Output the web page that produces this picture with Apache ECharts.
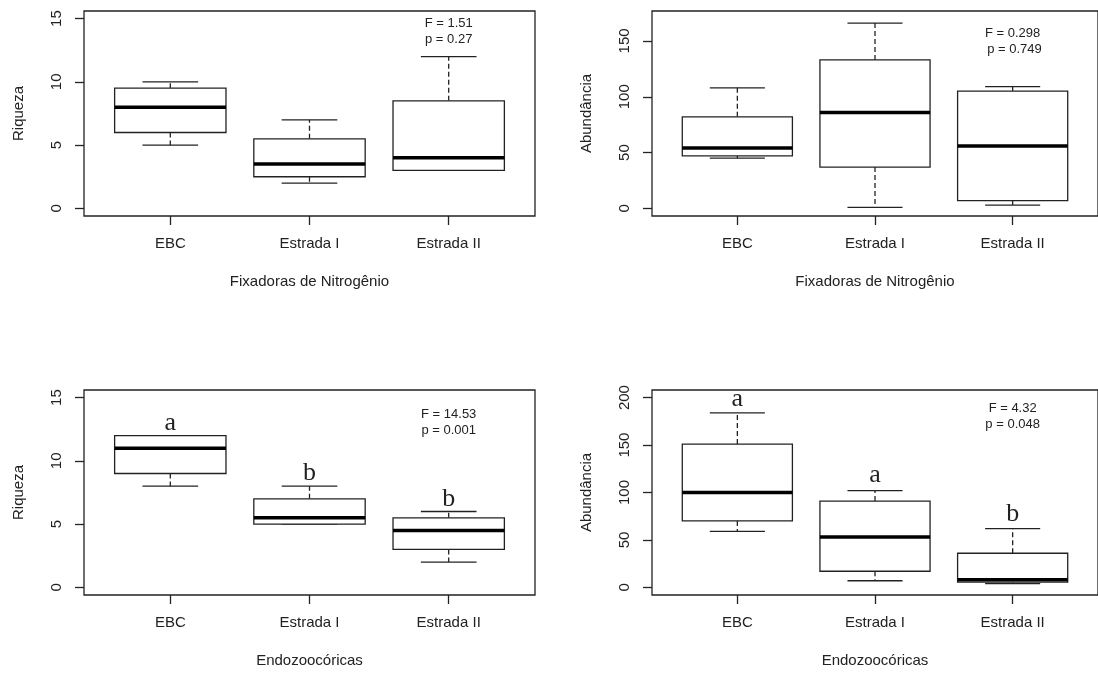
<!DOCTYPE html>
<html>
<head>
<meta charset="utf-8">
<title>Riqueza e Abundância</title>
<script src="https://cdn.jsdelivr.net/npm/echarts@6/dist/echarts.min.js"></script>
<style>
  html, body { margin: 0; padding: 0; background: #fff; }
  #chart { width: 1098px; height: 673px; }
</style>
</head>
<body>
<div id="chart"></div>
<script>
const categories = ['EBC', 'Estrada I', 'Estrada II']

// five-number summaries per group: [min, Q1, median, Q3, max]
const fixRiqueza = [[5, 6, 8, 9.5, 10], [2, 2.5, 3.5, 5.5, 7], [3, 3, 4, 8.5, 12]]
const fixAbundancia = [[45, 47, 54, 82, 108], [1, 37, 86, 133, 166], [3, 7, 56, 105, 109]]
const endoRiqueza = [[8, 9, 11, 12, 12], [5, 5, 5.5, 7, 8], [2, 3, 4.5, 5.5, 6]]
const endoAbundancia = [[59, 70, 100, 151, 184], [7, 17, 53, 91, 102], [4, 5.5, 8, 36, 62]]

// tick labels on the y axes
const riquezaTicks = [0, 5, 10, 15]
const fixAbundTicks = [0, 50, 100, 150]
const endoAbundTicks = [0, 50, 100, 150, 200]

// ANOVA results: [x, y, text]
const fixRiquezaStat = [3, 14, 'F = 1.51\np = 0.27']
const fixAbundStat = [3, 150, 'F = 0.298\n p = 0.749']
const endoRiquezaStat = [3, 13, 'F = 14.53\np = 0.001']
const endoAbundStat = [3, 180, 'F = 4.32\np = 0.048']

// Tukey letters: [x, y, letter]
const endoRiquezaLetters = [[1, 13, 'a'], [2, 9, 'b'], [3, 7, 'b']]
const endoAbundLetters = [[1, 198, 'a'], [2, 118, 'a'], [3, 77, 'b']]

const INK = '#222'
const SANS = '"Liberation Sans", Arial, sans-serif'
const SERIF = '"Liberation Serif", "Times New Roman", serif'

const panels = [
  { left: 84, top: 11, stats: fixRiqueza, yName: 'Riqueza', xName: 'Fixadoras de Nitrogênio',
    yMin: -0.6, yMax: 15.6, ticks: riquezaTicks, stat: fixRiquezaStat, letters: [] },
  { left: 652, top: 11, stats: fixAbundancia, yName: 'Abundância', xName: 'Fixadoras de Nitrogênio',
    yMin: -6.8, yMax: 176.8, ticks: fixAbundTicks, stat: fixAbundStat, letters: [] },
  { left: 84, top: 390, stats: endoRiqueza, yName: 'Riqueza', xName: 'Endozoocóricas',
    yMin: -0.6, yMax: 15.6, ticks: riquezaTicks, stat: endoRiquezaStat, letters: endoRiquezaLetters },
  { left: 652, top: 390, stats: endoAbundancia, yName: 'Abundância', xName: 'Endozoocóricas',
    yMin: -8, yMax: 208, ticks: endoAbundTicks, stat: endoAbundStat, letters: endoAbundLetters }
]

const seg = (x1, y1, x2, y2, style) => ({ type: 'line', shape: { x1, y1, x2, y2 }, style })

// R-style box: dashed whiskers, half-width staples, thick median
const renderBox = (params, api) => {
  const x = api.value(0)
  const lo = api.coord([x, api.value(1)])
  const q1 = api.coord([x, api.value(2)])
  const med = api.coord([x, api.value(3)])
  const q3 = api.coord([x, api.value(4)])
  const hi = api.coord([x, api.value(5)])
  const boxW = api.size([0.8, 0])[0]
  const capW = boxW * 0.5
  const cx = med[0]
  const solid = { stroke: INK, lineWidth: 1.3 }
  const dashed = { stroke: INK, lineWidth: 1.3, lineDash: [5, 3] }
  return {
    type: 'group',
    children: [
      seg(cx, q3[1], cx, hi[1], dashed),
      seg(cx, q1[1], cx, lo[1], dashed),
      seg(cx - capW / 2, hi[1], cx + capW / 2, hi[1], solid),
      seg(cx - capW / 2, lo[1], cx + capW / 2, lo[1], solid),
      { type: 'rect', shape: { x: cx - boxW / 2, y: q3[1], width: boxW, height: q1[1] - q3[1] },
        style: { fill: '#fff', stroke: INK, lineWidth: 1.3 } },
      seg(cx - boxW / 2, med[1], cx + boxW / 2, med[1], { stroke: '#000', lineWidth: 3.5 })
    ]
  }
}

const textRenderer = (items, font, lineHeight) => (params, api) => {
  const item = items[params.dataIndex]
  const p = api.coord([item[0], item[1]])
  return {
    type: 'text',
    x: p[0],
    y: p[1],
    style: { text: item[2], font, lineHeight, fill: INK, align: 'center', verticalAlign: 'middle' }
  }
}

const grid = []
const xAxis = []
const yAxis = []
const series = []

panels.forEach((pn, i) => {
  grid.push({
    left: pn.left, top: pn.top, width: 451, height: 205,
    show: true, borderColor: INK, borderWidth: 1.3, backgroundColor: 'transparent'
  })
  xAxis.push({
    type: 'value', gridIndex: i, min: 0.38, max: 3.62,
    name: pn.xName, nameLocation: 'middle', nameGap: 58,
    nameTextStyle: { fontFamily: SANS, fontSize: 15, color: INK },
    axisLine: { show: false, onZero: false },
    splitLine: { show: false },
    axisTick: { show: true, length: 9, customValues: [1, 2, 3], lineStyle: { color: INK, width: 1.3 } },
    axisLabel: {
      customValues: [1, 2, 3], margin: 20, fontFamily: SANS, fontSize: 15, color: INK,
      formatter: v => categories[Math.round(v) - 1]
    }
  })
  yAxis.push({
    type: 'value', gridIndex: i, min: pn.yMin, max: pn.yMax,
    name: pn.yName, nameLocation: 'middle', nameGap: 58, nameRotate: 90,
    nameTextStyle: { fontFamily: SANS, fontSize: 15, color: INK },
    axisLine: { show: false, onZero: false },
    splitLine: { show: false },
    axisTick: { show: true, length: 9, customValues: pn.ticks, lineStyle: { color: INK, width: 1.3 } },
    axisLabel: {
      customValues: pn.ticks, rotate: 90, margin: 20, fontFamily: SANS, fontSize: 15, color: INK
    }
  })
  series.push({
    type: 'custom', xAxisIndex: i, yAxisIndex: i,
    renderItem: renderBox,
    encode: { x: 0, y: [1, 2, 3, 4, 5] },
    data: pn.stats.map((s, k) => [k + 1, ...s]),
    silent: true
  })
  series.push({
    type: 'custom', xAxisIndex: i, yAxisIndex: i,
    renderItem: textRenderer([pn.stat], '13px ' + SANS, 16),
    encode: { x: 0, y: 1 },
    data: [[pn.stat[0], pn.stat[1]]],
    silent: true
  })
  if (pn.letters.length) {
    series.push({
      type: 'custom', xAxisIndex: i, yAxisIndex: i,
      renderItem: textRenderer(pn.letters, '26px ' + SERIF, 26),
      encode: { x: 0, y: 1 },
      data: pn.letters.map(l => [l[0], l[1]]),
      silent: true
    })
  }
})

const chart = echarts.init(document.getElementById('chart'))
chart.setOption({
  animation: false,
  backgroundColor: '#fff',
  grid,
  xAxis,
  yAxis,
  series
})
</script>
</body>
</html>
